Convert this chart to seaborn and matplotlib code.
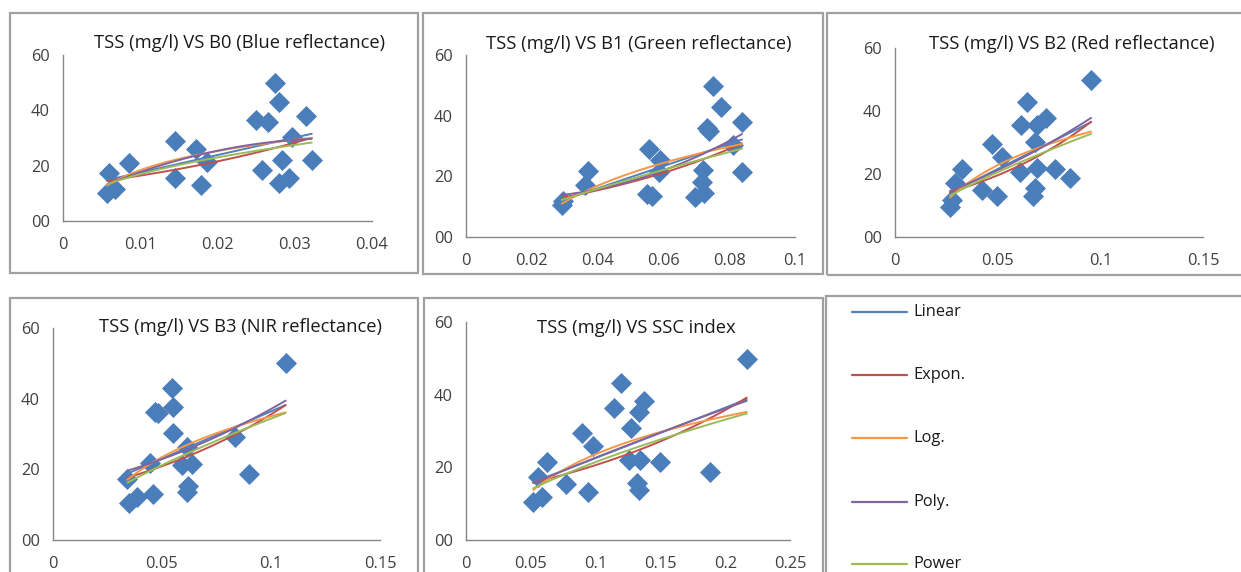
"""Five TSS scatter panels with Excel-style trend lines, saved as out.png."""
import matplotlib
matplotlib.use("Agg")
import matplotlib.pyplot as plt
import numpy as np
import pandas as pd
import seaborn as sns
from matplotlib.lines import Line2D
from matplotlib.patches import Rectangle

W, H = 1241, 572

# one pair of arrays per panel
b0_x = [0.0274, 0.0280, 0.0314, 0.0250, 0.0265, 0.0297, 0.0145, 0.0172, 0.0187,
        0.0283, 0.0322, 0.0085, 0.0258, 0.0059, 0.0145, 0.0292, 0.0280, 0.0178,
        0.0067, 0.0057]
b0_tss = [50, 43, 38, 36.5, 35.7, 30.5, 29, 26, 21.5, 22, 22, 21, 18.4, 17.5,
          15.4, 15.4, 13.6, 13, 11.5, 10]

b1_x = [0.0750, 0.0776, 0.0839, 0.0732, 0.0740, 0.0813, 0.0555, 0.0590, 0.0588,
        0.0721, 0.0838, 0.0372, 0.0362, 0.0716, 0.0549, 0.0696, 0.0724, 0.0565,
        0.0291, 0.0296]
b1_tss = [49.8, 43, 37.8, 36, 35, 30.3, 28.9, 25.4, 21.5, 22, 21.5, 21.9, 17.1,
          18.2, 14.2, 13.3, 14.4, 13.5, 10.5, 12]

b2_x = [0.0955, 0.0641, 0.0734, 0.0614, 0.0690, 0.0682, 0.0471, 0.0520, 0.0325,
        0.0609, 0.0690, 0.0779, 0.0852, 0.0292, 0.0422, 0.0495, 0.0682, 0.0674,
        0.0276, 0.0268]
b2_tss = [49.8, 42.8, 37.9, 35.6, 35.6, 30.3, 29.4, 25.5, 21.6, 20.7, 22, 21.6,
          18.6, 17, 14.9, 13, 15.5, 13.1, 11.7, 9.6]

b3_x = [0.1067, 0.0547, 0.0552, 0.0483, 0.0470, 0.0552, 0.0835, 0.0616, 0.0445,
        0.0590, 0.0636, 0.0900, 0.0341, 0.0621, 0.0613, 0.0457, 0.0384, 0.0350]
b3_tss = [50, 42.9, 37.7, 35.9, 36.2, 30.2, 29.2, 26.4, 21.7, 21.2, 21.5, 18.7,
          17.2, 15.3, 13.7, 13, 12.3, 10.4]

ssc_x = [0.2166, 0.1196, 0.1376, 0.1337, 0.1142, 0.1271, 0.0892, 0.0982, 0.0622,
         0.1258, 0.1343, 0.1497, 0.1883, 0.0558, 0.0772, 0.1317, 0.1337, 0.0944,
         0.0584, 0.0519]
ssc_tss = [49.8, 43.1, 38.3, 35.3, 36.4, 30.7, 29.4, 25.9, 21.6, 22, 22, 21.6,
           18.8, 17.4, 15.3, 15.6, 13.8, 13.3, 11.9, 10.5]

titles = ["TSS (mg/l) VS B0 (Blue reflectance)",
          "TSS (mg/l) VS B1 (Green reflectance)",
          "TSS (mg/l) VS B2 (Red reflectance)",
          "TSS (mg/l) VS B3 (NIR reflectance)",
          "TSS (mg/l) VS SSC index"]
x_maxes = [0.04, 0.1, 0.15, 0.15, 0.25]
x_steps = [0.01, 0.02, 0.05, 0.05, 0.05]
y_ticks = [0, 20, 40, 60]
y_labels = ["00", "20", "40", "60"]
fit_names = ["Linear", "Expon.", "Log.", "Poly.", "Power"]
fit_colors = ["#4F81BD", "#C0504D", "#F79646", "#8064A2", "#9BBB59"]

# pixel boxes (left, top, right, bottom) for axes, frames and titles
axes_px = [(63, 55, 372, 221), (466, 55, 795, 237), (895, 48, 1203, 237),
           (53, 328, 380, 540), (466, 322, 790, 540)]
frames_px = [(10, 13, 418, 273), (423, 13, 823, 274), (827, 13, 1250, 275),
             (10, 298, 418, 590), (424, 298, 823, 590), (826, 296, 1250, 590)]
title_px = [(240, 43), (639, 44), (1072, 44), (240, 327), (636, 328)]

MARKER = "#4A7EBB"
TEXT = "#404040"
FONT = "Open Sans"


def box(l, t, r, b):
    return [l / W, 1 - b / H, (r - l) / W, (b - t) / H]


def trend_lines(x, y):
    x = np.asarray(x, float)
    y = np.asarray(y, float)
    xs = np.linspace(x.min(), x.max(), 100)
    lin = np.polyval(np.polyfit(x, y, 1), xs)
    b, ln_a = np.polyfit(x, np.log(y), 1)
    expo = np.exp(ln_a) * np.exp(b * xs)
    logf = np.polyval(np.polyfit(np.log(x), y, 1), np.log(xs))
    poly = np.polyval(np.polyfit(x, y, 2), xs)
    b, ln_a = np.polyfit(np.log(x), np.log(y), 1)
    power = np.exp(ln_a) * xs ** b
    return xs, [lin, expo, logf, poly, power]


def tick_label(v):
    return "0" if v == 0 else f"{v:.2f}".rstrip("0")


def main():
    sns.set_theme(style="white")
    plt.rcParams["font.family"] = [FONT, "DejaVu Sans"]

    fig = plt.figure(figsize=(W / 100, H / 100), dpi=100)
    fig.patch.set_facecolor("white")

    for l, t, r, b in frames_px:
        fig.patches.append(Rectangle((l / W, 1 - b / H), (r - l) / W, (b - t) / H,
                                     transform=fig.transFigure, fill=False,
                                     edgecolor="#A0A0A0", linewidth=1.6))

    panels = [(b0_x, b0_tss), (b1_x, b1_tss), (b2_x, b2_tss), (b3_x, b3_tss),
              (ssc_x, ssc_tss)]
    for i, (x, y) in enumerate(panels):
        ax = fig.add_axes(box(*axes_px[i]))
        ax.set_facecolor("none")
        df = pd.DataFrame({"x": x, "tss": y})
        sns.scatterplot(data=df, x="x", y="tss", marker="D", s=115,
                        color=MARKER, linewidth=0, ax=ax, zorder=2,
                        clip_on=False)
        xs, fits = trend_lines(x, y)
        for fit, c in zip(fits, fit_colors):
            ax.plot(xs, fit, color=c, lw=1.4, zorder=3)

        ax.set_xlim(0, x_maxes[i])
        ax.set_ylim(0, 60)
        xt = np.arange(0, x_maxes[i] + 1e-9, x_steps[i])
        ax.set_xticks(xt)
        ax.set_xticklabels([tick_label(round(v, 3)) for v in xt])
        ax.set_yticks(y_ticks)
        ax.set_yticklabels(y_labels)
        ax.set(xlabel="", ylabel="")
        for side in ["top", "right"]:
            ax.spines[side].set_visible(False)
        for side in ["left", "bottom"]:
            ax.spines[side].set_color("#868686")
            ax.spines[side].set_linewidth(1.0)
        ax.tick_params(axis="both", direction="out", length=3.5, width=0.8,
                       color="#868686", labelsize=11.8, labelcolor=TEXT)
        ax.tick_params(axis="x", pad=8)
        ax.tick_params(axis="y", pad=6)

        tx, ty = title_px[i]
        fig.text(tx / W, 1 - ty / H, titles[i], ha="center", va="center",
                 fontsize=13.2, color="#1a1a1a")

    # legend panel drawn as separate lines and labels
    legend_y = [312, 375, 438, 502, 564]
    for name, c, yy in zip(fit_names, fit_colors, legend_y):
        fig.lines.append(Line2D([852 / W, 907 / W], [1 - yy / H, 1 - yy / H],
                                transform=fig.transFigure, color=c, lw=1.6))
        fig.text(913 / W, 1 - yy / H, name, ha="left", va="center",
                 fontsize=11.8, color="#1a1a1a")

    fig.savefig("out.png", dpi=100)
    plt.close(fig)


if __name__ == "__main__":
    main()
